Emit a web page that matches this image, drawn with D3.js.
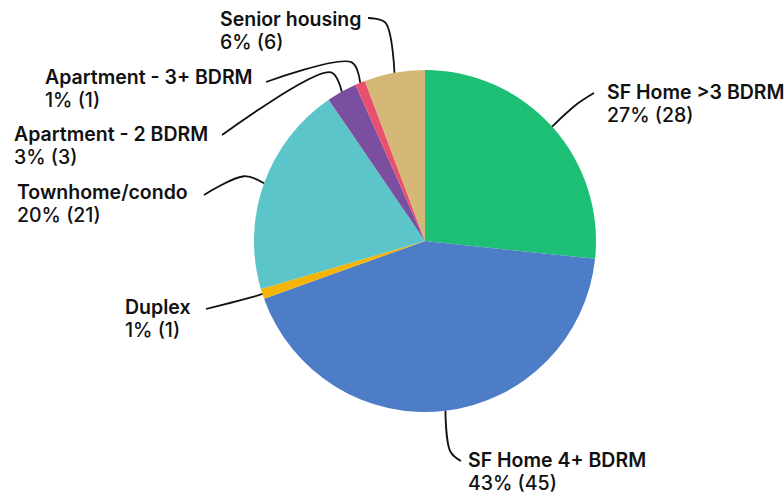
<!DOCTYPE html>
<html>
<head>
<meta charset="utf-8">
<script src="https://cdn.jsdelivr.net/npm/d3@7"></script>
<style>
  body { margin: 0; background: #fff; }
  text { font-family: Inter, Roboto, sans-serif; fill: #111; }
</style>
</head>
<body>
<div id="chart"></div>
<script>
const categories = ['SF Home >3 BDRM', 'SF Home 4+ BDRM', 'Duplex', 'Townhome/condo', 'Apartment - 2 BDRM', 'Apartment - 3+ BDRM', 'Senior housing']
const counts = [28, 45, 1, 21, 3, 1, 6]
const percents = [27, 43, 1, 20, 3, 1, 6]
const colors = ['#1cbf73', '#4c7dc6', '#f3b406', '#5bc5c9', '#7b4f9f', '#e9506d', '#d5b877']

// label placement: text x / baseline y, elbow radius, line end
const labelPos = [
  { x: 607, y: 99, r: 205, ex: 594, ey: 93 },
  { x: 468, y: 467, r: 212, ex: 461, ey: 461 },
  { x: 125, y: 314, r: 180, ex: 206, ey: 309 },
  { x: 17, y: 199, r: 192, ex: 204, ey: 195 },
  { x: 14, y: 141, r: 193, ex: 222, ey: 135 },
  { x: 45, y: 84, r: 193, ex: 266, ey: 82 },
  { x: 220, y: 26, r: 222, ex: 368, ey: 18 }
]

const W = 784, H = 497
const cx = 425, cy = 241, R = 171

const svg = d3.select('#chart')
  .append('svg')
  .attr('width', W)
  .attr('height', H)

const data = categories.map((c, i) => ({ name: c, value: counts[i], pct: percents[i], i }))

const pie = d3.pie()
  .value(d => d.value)
  .sort(null)

const arc = d3.arc()
  .innerRadius(0)
  .outerRadius(R)

const arcs = pie(data)

const g = svg.append('g')
  .attr('transform', 'translate(' + cx + ',' + cy + ')')

g.selectAll('path.slice')
  .data(arcs)
  .enter()
  .append('path')
  .attr('class', 'slice')
  .attr('d', arc)
  .attr('fill', d => colors[d.data.i])

const polar = (a, r) => [cx + r * Math.sin(a), cy - r * Math.cos(a)]

const line = d3.line().curve(d3.curveCatmullRom.alpha(0.5))

svg.selectAll('path.leader')
  .data(arcs)
  .enter()
  .append('path')
  .attr('class', 'leader')
  .attr('fill', 'none')
  .attr('stroke', '#111')
  .attr('stroke-width', 1.8)
  .attr('d', d => {
    const a = (d.startAngle + d.endAngle) / 2
    const p = labelPos[d.data.i]
    return line([polar(a, R), polar(a, p.r), [p.ex, p.ey]])
  })

const labels = svg.selectAll('text.label')
  .data(data)
  .enter()
  .append('text')
  .attr('class', 'label')
  .attr('font-size', 19.5)

labels.append('tspan')
  .attr('x', d => labelPos[d.i].x)
  .attr('y', d => labelPos[d.i].y)
  .attr('font-weight', 600)
  .text(d => d.name)

labels.append('tspan')
  .attr('x', d => labelPos[d.i].x)
  .attr('y', d => labelPos[d.i].y + 23)
  .attr('font-weight', 500)
  .text(d => d.pct + '% (' + d.value + ')')
</script>
</body>
</html>
